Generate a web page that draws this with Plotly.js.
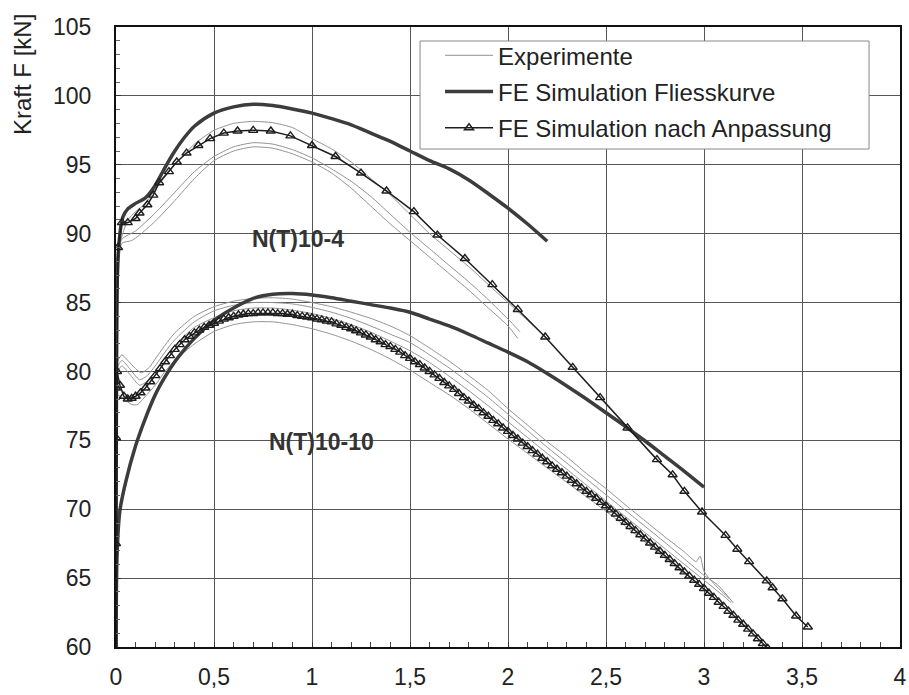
<!DOCTYPE html>
<html><head><meta charset="utf-8">
<script src="https://cdn.plot.ly/plotly-3.0.1.min.js"></script>
<style>html,body{margin:0;padding:0;background:#fff}#chart{width:909px;height:695px}</style>
</head><body><div id="chart"></div>
<script>
// ---- Experimente N(T)10-4 ----
const exp4aX = [0, 0.005, 0.03, 0.06, 0.1, 0.15, 0.2, 0.3, 0.4, 0.5, 0.6, 0.7, 0.8, 0.9, 1.0, 1.1, 1.2, 1.3, 1.4, 1.5, 1.6, 1.7, 1.8, 1.9, 2.0, 2.1, 2.2];
const exp4aY = [50, 88.5, 89.8, 91.0, 91.6, 92.2, 93.2, 95.0, 96.5, 97.5, 98.0, 98.15, 98.05, 97.7, 96.9, 96.15, 95.2, 94.0, 92.8, 91.4, 90.0, 88.8, 87.6, 86.3, 85.0, 83.7, 82.4];
const exp4bX = [0, 0.005, 0.03, 0.1, 0.2, 0.3, 0.4, 0.5, 0.6, 0.7, 0.8, 0.9, 1.0, 1.1, 1.2, 1.3, 1.4, 1.5, 1.6, 1.7, 1.8, 1.9, 2.0, 2.06];
const exp4bY = [50, 87.5, 89.6, 90.2, 91.5, 93.0, 94.5, 95.6, 96.3, 96.6, 96.5, 96.1, 95.5, 94.7, 93.8, 92.7, 91.4, 90.1, 88.9, 87.7, 86.5, 85.2, 83.8, 82.9];
const exp4cX = [0, 0.005, 0.03, 0.08, 0.12, 0.2, 0.3, 0.4, 0.5, 0.6, 0.7, 0.8, 0.9, 1.0, 1.1, 1.2, 1.3, 1.4, 1.5, 1.6, 1.7, 1.8, 1.9, 2.0, 2.05];
const exp4cY = [50, 87, 89.3, 89.5, 89.9, 90.9, 92.4, 94.0, 95.3, 96.0, 96.3, 96.2, 95.8, 95.2, 94.4, 93.3, 92.0, 90.7, 89.5, 88.3, 87.1, 85.9, 84.6, 83.3, 82.4];

// ---- Experimente N(T)10-10 ----
const exp10aX = [0, 0.005, 0.03, 0.06, 0.1, 0.13, 0.17, 0.2, 0.25, 0.3, 0.4, 0.5, 0.6, 0.7, 0.8, 0.9, 1.0, 1.1, 1.2, 1.3, 1.4, 1.5, 1.6, 1.7, 1.8, 1.9, 2.0, 2.1, 2.2, 2.3, 2.4, 2.5, 2.6, 2.7, 2.8, 2.9, 2.96, 2.98, 3.0, 3.05, 3.1, 3.13];
const exp10aY = [50, 80.6, 81.2, 80.8, 80.2, 79.9, 80.3, 80.9, 81.9, 82.8, 84.0, 84.7, 85.1, 85.3, 85.35, 85.25, 85.0, 84.7, 84.3, 83.85, 83.3, 82.6, 81.7, 80.75, 79.7, 78.6, 77.3, 76.1, 74.9, 73.8, 72.6, 71.5, 70.3, 69.15, 68.0, 66.9, 66.2, 66.6, 65.5, 64.6, 63.9, 63.5];
const exp10bX = [0, 0.005, 0.03, 0.07, 0.12, 0.16, 0.2, 0.25, 0.3, 0.4, 0.5, 0.6, 0.7, 0.8, 0.9, 1.0, 1.1, 1.2, 1.3, 1.4, 1.5, 1.6, 1.7, 1.8, 1.9, 2.0, 2.1, 2.2, 2.3, 2.4, 2.5, 2.6, 2.7, 2.8, 2.9, 3.0, 3.07, 3.15];
const exp10bY = [50, 80.2, 80.8, 80.2, 79.4, 79.7, 80.4, 81.4, 82.3, 83.6, 84.4, 84.8, 85.0, 85.0, 84.9, 84.65, 84.3, 83.85, 83.3, 82.7, 82.1, 81.2, 80.25, 79.2, 78.1, 76.9, 75.7, 74.5, 73.35, 72.2, 71.05, 69.9, 68.75, 67.6, 66.4, 65.2, 64.5, 63.2];
const exp10cX = [0, 0.005, 0.03, 0.07, 0.12, 0.16, 0.2, 0.25, 0.3, 0.4, 0.5, 0.6, 0.7, 0.8, 0.9, 1.0, 1.1, 1.2, 1.3, 1.4, 1.5, 1.6, 1.7, 1.8, 1.9, 2.0, 2.1, 2.2, 2.3, 2.4, 2.5, 2.6, 2.7, 2.8, 2.9, 3.0, 3.1, 3.14];
const exp10cY = [50, 79.8, 80.4, 79.8, 79.0, 79.3, 80.0, 81.0, 81.9, 83.2, 83.9, 84.4, 84.6, 84.6, 84.45, 84.2, 83.85, 83.4, 82.85, 82.2, 81.5, 80.65, 79.65, 78.6, 77.5, 76.35, 75.2, 74.05, 72.9, 71.75, 70.6, 69.45, 68.3, 67.15, 66.0, 64.85, 63.7, 63.2];
const exp10dX = [0, 0.005, 0.04, 0.08, 0.11, 0.15, 0.2, 0.25, 0.3, 0.4, 0.5, 0.6, 0.7, 0.8, 0.9, 1.0, 1.1, 1.2, 1.3, 1.4, 1.5, 1.6, 1.7, 1.8, 1.9, 2.0, 2.1, 2.2, 2.3, 2.4, 2.5, 2.6, 2.7, 2.8, 2.9];
const exp10dY = [50, 78.3, 78.0, 77.6, 77.6, 78.2, 79.0, 80.0, 80.8, 82.0, 82.9, 83.4, 83.6, 83.6, 83.4, 83.1, 82.7, 82.2, 81.6, 80.9, 80.1, 79.2, 78.3, 77.3, 76.2, 75.1, 74.05, 73.0, 71.95, 70.9, 69.85, 68.75, 67.6, 66.45, 65.3];

// ---- FE Simulation Fliesskurve ----
const fe4X = [0, 0.005, 0.02, 0.035, 0.06, 0.1, 0.15, 0.2, 0.25, 0.3, 0.35, 0.4, 0.5, 0.6, 0.7, 0.8, 0.9, 1.0, 1.1, 1.2, 1.3, 1.4, 1.5, 1.6, 1.7, 1.8, 1.9, 2.0, 2.1, 2.2];
const fe4Y = [50, 86, 90.0, 91.2, 91.8, 92.2, 92.6, 93.5, 94.8, 96.0, 97.0, 97.8, 98.75, 99.2, 99.4, 99.3, 99.05, 98.75, 98.35, 97.9, 97.3, 96.7, 96.0, 95.3, 94.7, 93.9, 92.9, 91.85, 90.7, 89.45];
const fe10X = [0, 0.005, 0.02, 0.05, 0.1, 0.15, 0.2, 0.25, 0.3, 0.35, 0.4, 0.5, 0.6, 0.7, 0.8, 0.9, 1.0, 1.1, 1.2, 1.3, 1.4, 1.5, 1.6, 1.7, 1.8, 1.9, 2.0, 2.1, 2.2, 2.3, 2.4, 2.5, 2.6, 2.7, 2.8, 2.9, 3.0];
const fe10Y = [50, 66.5, 69.9, 72.0, 74.6, 76.6, 78.3, 79.6, 80.7, 81.6, 82.4, 83.7, 84.6, 85.3, 85.6, 85.65, 85.55, 85.35, 85.1, 84.85, 84.6, 84.3, 83.8, 83.3, 82.7, 82.05, 81.4, 80.7, 79.85, 78.95, 78.0, 77.0, 76.0, 74.95, 73.85, 72.75, 71.6];

// ---- FE Simulation nach Anpassung ----
const fa4X = [0, 0.01, 0.03, 0.06, 0.1, 0.12, 0.16, 0.19, 0.22, 0.27, 0.31, 0.36, 0.42, 0.48, 0.55, 0.62, 0.70, 0.79, 0.89, 1.0, 1.12, 1.25, 1.38, 1.52, 1.64, 1.78, 1.92, 2.05, 2.19, 2.33, 2.47, 2.61, 2.76, 2.84, 2.9, 2.99, 3.11, 3.17, 3.23, 3.32, 3.35, 3.4, 3.47, 3.53];
const fa4Y = [50, 89.0, 90.8, 90.8, 91.1, 91.5, 92.1, 92.8, 93.7, 94.5, 95.2, 95.85, 96.4, 96.9, 97.3, 97.45, 97.5, 97.45, 97.1, 96.4, 95.6, 94.4, 93.1, 91.6, 89.9, 88.2, 86.3, 84.5, 82.5, 80.3, 78.1, 75.9, 73.6, 72.5, 71.3, 69.8, 68.1, 67.1, 66.2, 64.8, 64.3, 63.5, 62.25, 61.45];
const fa10X = [0, 0, 0, 0, 0.005, 0.02, 0.04, 0.06, 0.08,
  0.100, 0.125, 0.150, 0.175, 0.200, 0.225, 0.250, 0.275, 0.300, 0.325, 0.350, 0.375, 0.400, 0.425, 0.450, 0.475,
  0.500, 0.525, 0.550, 0.575, 0.600, 0.625, 0.650, 0.675, 0.700, 0.725, 0.750, 0.775, 0.800, 0.825, 0.850, 0.875,
  0.900, 0.925, 0.950, 0.975, 1.000, 1.025, 1.050, 1.075, 1.100, 1.125, 1.150, 1.175, 1.200, 1.225, 1.250, 1.275,
  1.300, 1.325, 1.350, 1.375, 1.400, 1.425, 1.450, 1.475, 1.500, 1.525, 1.550, 1.575, 1.600, 1.625, 1.650, 1.675,
  1.700, 1.725, 1.750, 1.775, 1.800, 1.825, 1.850, 1.875, 1.900, 1.925, 1.950, 1.975, 2.000, 2.025, 2.050, 2.075,
  2.100, 2.125, 2.150, 2.175, 2.200, 2.225, 2.250, 2.275, 2.300, 2.325, 2.350, 2.375, 2.400, 2.425, 2.450, 2.475,
  2.500, 2.525, 2.550, 2.575, 2.600, 2.625, 2.650, 2.675, 2.700, 2.725, 2.750, 2.775, 2.800, 2.825, 2.850, 2.875,
  2.900, 2.925, 2.950, 2.975, 3.000, 3.025, 3.050, 3.075, 3.100, 3.125, 3.150, 3.175, 3.200, 3.225, 3.250, 3.275,
  3.300, 3.325];
const fa10Y = [50, 67.5, 75.2, 78.8, 80.0, 79.0, 78.2, 78.0, 78.05,
  78.20, 78.45, 78.80, 79.25, 79.70, 80.20, 80.70, 81.15, 81.60, 81.95, 82.30, 82.55, 82.80, 83.00, 83.20, 83.35,
  83.50, 83.65, 83.80, 83.90, 84.00, 84.10, 84.15, 84.20, 84.20, 84.25, 84.25, 84.25, 84.25, 84.20, 84.20, 84.15,
  84.15, 84.05, 84.00, 83.95, 83.90, 83.80, 83.75, 83.65, 83.60, 83.45, 83.35, 83.20, 83.10, 82.95, 82.80, 82.65,
  82.50, 82.30, 82.15, 81.95, 81.80, 81.60, 81.40, 81.15, 80.95, 80.70, 80.50, 80.25, 80.00, 79.75, 79.50, 79.20,
  78.95, 78.70, 78.40, 78.10, 77.85, 77.55, 77.30, 77.00, 76.75, 76.45, 76.20, 75.90, 75.65, 75.35, 75.10, 74.80,
  74.55, 74.25, 74.00, 73.70, 73.45, 73.15, 72.90, 72.65, 72.40, 72.10, 71.85, 71.55, 71.30, 71.05, 70.80, 70.50,
  70.25, 69.95, 69.65, 69.35, 69.05, 68.75, 68.45, 68.15, 67.85, 67.55, 67.25, 66.95, 66.65, 66.35, 66.05, 65.75,
  65.45, 65.15, 64.85, 64.55, 64.25, 63.90, 63.60, 63.25, 62.95, 62.60, 62.30, 61.95, 61.65, 61.30, 60.95, 60.60,
  60.25, 59.90];

// ---- labels ----
const seriesNames = ['Experimente', 'FE Simulation Fliesskurve', 'FE Simulation nach Anpassung'];
const groupLabels = ['N(T)10-4', 'N(T)10-10'];
const groupLabelPos = [[0.93, 89.6], [1.05, 74.9]];
const yTitle = 'Kraft F [kN]';
const xTickVals = [0, 0.5, 1, 1.5, 2, 2.5, 3, 3.5, 4];
const yTickVals = [60, 65, 70, 75, 80, 85, 90, 95, 100, 105];

const FONT = 'Liberation Sans, Arial, sans-serif';
const expStyle = {color: '#929292', width: 1, shape: 'spline', smoothing: 0.6};
const feStyle = {color: '#3c3c3c', width: 3.5, shape: 'spline', smoothing: 0.8};
const faStyle = {color: '#1e1e1e', width: 1.5};
const triMarker = {symbol: 'triangle-up-open', size: 8, color: '#1e1e1e', line: {width: 1.4, color: '#1e1e1e'}};

const expSets = [[exp4aX, exp4aY], [exp4bX, exp4bY], [exp4cX, exp4cY], [exp10aX, exp10aY], [exp10bX, exp10bY], [exp10cX, exp10cY], [exp10dX, exp10dY]];
const traces = [];
expSets.forEach((s, i) => traces.push({
  x: s[0], y: s[1], type: 'scatter', mode: 'lines', line: expStyle,
  name: seriesNames[0], legendgroup: 'exp', showlegend: i === 0, hoverinfo: 'skip'
}));
[[fe4X, fe4Y], [fe10X, fe10Y]].forEach((s, i) => traces.push({
  x: s[0], y: s[1], type: 'scatter', mode: 'lines', line: feStyle,
  name: seriesNames[1], legendgroup: 'fe', showlegend: i === 0, hoverinfo: 'skip'
}));
[[fa4X, fa4Y], [fa10X, fa10Y]].forEach((s, i) => traces.push({
  x: s[0], y: s[1], type: 'scatter', mode: 'lines+markers', line: faStyle, marker: triMarker,
  name: seriesNames[2], legendgroup: 'fa', showlegend: i === 0, hoverinfo: 'skip'
}));

const annotations = groupLabels.map((t, i) => ({
  x: groupLabelPos[i][0], y: groupLabelPos[i][1], xref: 'x', yref: 'y', text: '<b>' + t + '</b>',
  showarrow: false, font: {family: FONT, size: 23, color: '#333'}, xanchor: 'center', yanchor: 'middle'
}));
annotations.push({
  x: -0.1186, y: 0.9226, xref: 'paper', yref: 'paper', text: yTitle, textangle: -90,
  showarrow: false, font: {family: FONT, size: 24, color: '#222'}, xanchor: 'center', yanchor: 'middle'
});

const axisCommon = {
  showline: true, linecolor: '#111', linewidth: 2, mirror: true,
  showgrid: true, gridcolor: '#555', gridwidth: 1, zeroline: false,
  ticks: 'inside', ticklen: 5, tickcolor: '#333', tickwidth: 1,
  tickfont: {family: FONT, size: 23, color: '#222'}
};

const layout = {
  width: 909, height: 695,
  margin: {l: 116, r: 9, t: 27, b: 48},
  paper_bgcolor: '#fff', plot_bgcolor: '#fff',
  separators: ',.',
  showlegend: true,
  font: {family: FONT, color: '#222'},
  xaxis: Object.assign({}, axisCommon, {
    range: [0, 4], tickvals: xTickVals, ticklabelstandoff: 8,
    minor: {dtick: 0.1, ticks: 'inside', ticklen: 5, tickcolor: '#444', showgrid: false}
  }),
  yaxis: Object.assign({}, axisCommon, {
    range: [60, 105], tickvals: yTickVals, ticklabelstandoff: 18,
    minor: {dtick: 1, ticks: 'inside', ticklen: 4, tickcolor: '#666', showgrid: false}
  }),
  shapes: [{
    type: 'rect', xref: 'paper', yref: 'paper', x0: 0.3878, x1: 0.9605, y0: 0.8032, y1: 0.9774,
    line: {color: '#888', width: 1}, fillcolor: '#fff', layer: 'above'
  }],
  legend: {
    x: 0.4133, y: 0.990, xanchor: 'left', yanchor: 'top',
    bgcolor: 'rgba(0,0,0,0)', borderwidth: 0, traceorder: 'grouped', tracegroupgap: 2,
    font: {family: FONT, size: 24, color: '#222'}, itemwidth: 48
  },
  annotations: annotations
};

Plotly.newPlot('chart', traces, layout, {displayModeBar: false, staticPlot: true});
</script></body></html>
